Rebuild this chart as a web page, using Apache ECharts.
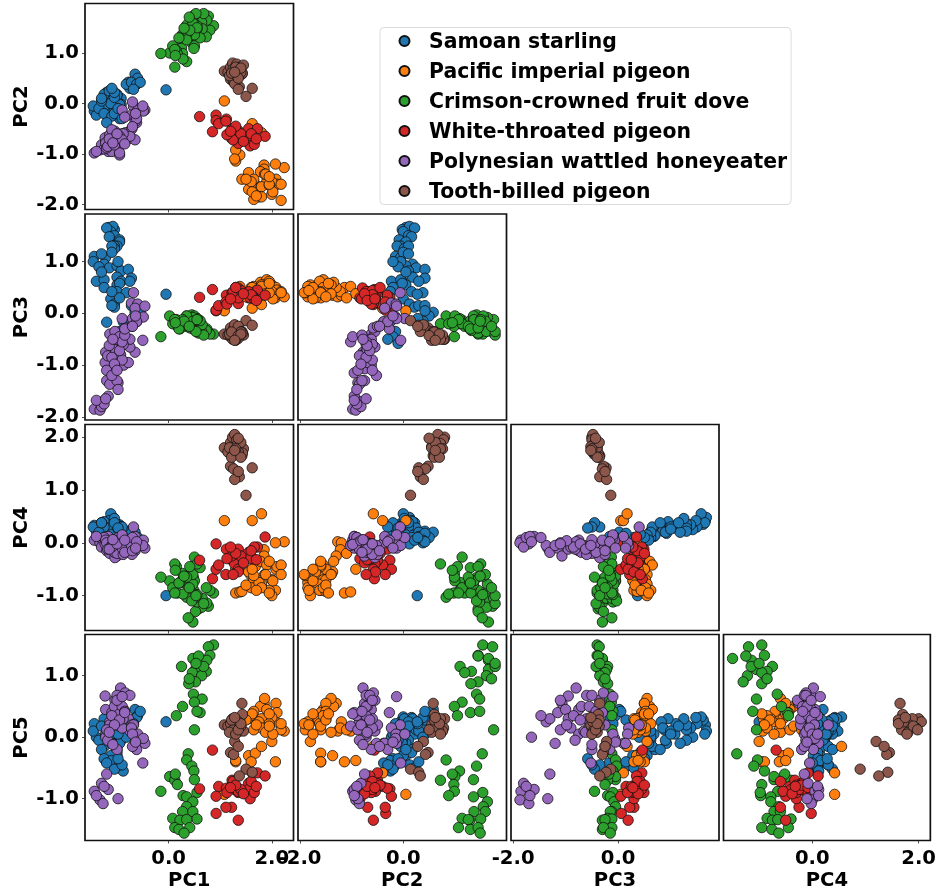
<!DOCTYPE html>
<html><head><meta charset="utf-8">
<style>html,body{margin:0;padding:0;background:#fff}#c{width:939px;height:892px}</style>
<script src="https://cdn.jsdelivr.net/npm/echarts@6/dist/echarts.min.js"></script>
</head><body><div id="c"></div>
<script>
const pcNames = ['PC1','PC2','PC3','PC4','PC5'];
const speciesNames = ['Samoan starling','Pacific imperial pigeon','Crimson-crowned fruit dove','White-throated pigeon','Polynesian wattled honeyeater','Tooth-billed pigeon'];
const speciesColors = ['#1f77b4','#ff7f0e','#2ca02c','#d62728','#9467bd','#8c564b'];
const samoanStarling = [
[-1.16,0.05,1.66,0.42,0.2],[-1.05,-0.02,1.62,0.35,0.28],[-1.08,0.12,1.68,0.48,0.1],[-1.12,0.0,1.58,0.55,0.33],[-1.2,0.22,1.65,0.38,0.05],
[-1.05,0.1,1.5,0.3,0.22],[-1.15,0.16,1.48,0.42,0.32],[-0.95,-0.08,1.42,0.25,0.0],[-0.95,0.05,1.38,0.34,0.15],[-1.0,-0.05,1.3,0.36,0.12],
[-1.05,-0.12,1.3,0.28,0.2],[-1.05,0.02,1.25,0.46,0.3],[-1.1,0.1,1.3,0.22,-0.05],[-1.44,-0.15,1.1,0.33,0.22],[-1.22,-0.05,1.08,0.28,0.05],
[-1.1,0.0,1.18,0.2,-0.1],[-1.25,0.18,0.95,0.4,0.3],[-1.15,0.25,0.88,0.28,0.12],[-1.0,0.05,0.92,0.18,-0.1],[-0.92,0.1,0.82,0.3,0.25],
[-0.78,0.42,0.85,0.22,0.15],[-0.72,0.42,0.68,0.12,0.05],[-1.0,0.18,0.7,0.14,-0.2],[-0.92,-0.02,0.62,0.1,-0.05],[-1.4,-0.23,0.62,0.22,0.0],
[-1.25,-0.05,0.65,0.3,-0.15],[-0.75,0.3,0.62,0.2,0.1],[-1.0,0.05,0.55,0.15,-0.3],[-0.95,-0.02,0.58,0.05,-0.1],[-1.0,0.16,0.42,0.1,-0.25],
[-1.12,0.0,0.28,0.02,-0.3],[-0.82,0.38,0.4,0.0,0.0],[-1.05,0.12,0.18,-0.02,-0.45],[-1.05,0.22,0.12,0.05,-0.5],[-1.1,0.3,0.15,0.12,-0.4],
[-1.46,-0.05,1.0,0.3,0.1],[-1.35,-0.1,0.9,0.2,-0.05],[-1.3,0.05,0.8,0.38,-0.2],[-1.25,-0.2,0.5,0.1,-0.35],[-0.95,-0.3,0.3,0.1,-0.5],
[-1.1,-0.25,0.42,0.16,-0.38],[-1.3,0.1,1.15,0.38,0.18],[-0.98,-0.2,1.0,0.26,0.05],
[-0.65,0.58,0.02,0.2,0.45],[-0.6,0.5,-0.05,0.1,0.35],[-0.72,0.42,0.15,0.18,0.28],[-0.62,0.38,-0.15,0.05,0.32],[-0.55,0.42,0.05,0.02,0.42],
[-0.68,0.28,-0.1,0.1,0.22],[-1.2,-0.38,-0.17,0.0,-0.42],[-0.88,-0.25,-0.16,0.12,-0.55],[-0.95,-0.15,-0.35,0.3,-0.45],[-1.05,-0.2,-0.45,0.38,-0.52],
[-0.9,-0.3,-0.5,0.3,-0.45],[-0.98,-0.1,-0.58,0.28,-0.35],[-0.05,0.27,0.37,-1.0,0.25]];
const pacificImperialPigeon = [
[1.3,-1.14,0.5,-0.95,-0.4],[1.38,-1.02,0.52,-0.93,0.1],[1.55,-1.37,0.35,-0.55,-0.3],[1.68,-1.6,0.45,-0.45,-0.26],[1.6,-1.6,0.42,-0.62,-0.4],
[2.07,-1.6,0.3,-0.9,-0.4],[2.0,-1.8,0.55,-1.0,-0.07],[1.08,0.05,0.05,0.42,-0.93],[1.62,-0.4,0.1,0.42,-0.58],[1.8,-0.58,0.17,0.55,-0.15],
[2.24,-1.27,0.32,0.02,0.1],[2.07,-1.2,0.35,0.0,0.25],[1.85,-1.22,0.42,-0.13,0.15],[1.85,-1.3,0.5,-0.25,0.55],[1.78,-1.35,0.6,-0.35,0.5],
[1.9,-1.55,0.65,-0.42,0.45],[1.86,-1.4,0.55,-0.6,0.63],[2.08,-1.5,0.5,-0.5,0.55],[2.1,-1.6,0.45,-0.45,0.4],[2.0,-1.55,0.42,-0.7,0.32],
[1.65,-1.5,0.52,-0.7,0.42],[1.55,-1.7,0.3,-0.55,0.3],[1.8,-1.65,0.55,-0.78,0.3],[1.95,-1.62,0.62,-0.9,0.22],[1.42,-1.5,0.36,-0.92,0.3],
[1.6,-1.55,0.5,-0.85,0.35],[1.75,-1.85,0.32,-0.75,0.25],[1.8,-1.85,0.52,-0.85,0.15],[1.65,-1.9,0.4,-0.62,0.12],[1.88,-1.4,0.38,-0.6,0.08],
[2.18,-1.6,0.42,-0.42,0.12],[2.02,-1.75,0.28,-0.72,0.05],[1.62,-1.75,0.5,-0.5,0.38],[1.95,-1.6,0.4,-0.35,0.18],[2.18,-1.92,0.4,-0.6,0.22],
[1.5,-1.5,0.32,-0.8,0.28],[1.7,-1.83,0.44,-0.9,0.2],[1.3,-0.92,0.38,-0.5,-0.38],[1.28,-1.1,0.3,-0.2,0.12],[1.95,-1.45,0.58,-0.95,0.38]];
const crimsonCrownedFruitDove = [
[0.87,1.54,-0.4,-0.95,1.5],[0.77,1.73,-0.36,-1.2,1.47],[0.8,1.45,-0.4,-0.9,1.33],[0.74,1.65,-0.3,-1.14,1.25],[0.47,1.65,-0.3,-1.5,1.28],
[0.58,1.45,-0.38,-1.25,1.32],[0.25,1.1,-0.2,-0.75,1.15],[0.73,1.32,-0.33,-0.85,1.07],[0.52,1.65,-0.22,-1.05,1.1],[0.46,1.19,-0.25,-0.95,1.05],
[0.64,1.61,-0.35,-1.22,1.0],[0.52,1.45,-0.28,-1.3,0.9],[0.39,1.31,-0.2,-0.95,0.87],[0.48,1.42,-0.16,-0.66,0.7],[0.65,1.48,-0.22,-1.05,0.62],
[0.5,1.14,-0.13,-0.27,0.57],[0.61,1.3,-0.14,-0.47,0.4],[0.55,1.48,-0.1,-1.12,0.42],[0.27,0.99,-0.16,-0.58,0.5],[0.15,1.05,-0.12,-0.45,0.35],
[0.5,1.75,-0.12,-1.05,0.12],[0.38,1.53,-0.12,-1.42,-0.27],[0.35,0.83,-0.05,-1.03,-0.37],[0.45,1.42,-0.03,-1.1,-0.47],[0.49,1.09,-0.1,-0.9,-0.55],
[0.5,1.36,-0.05,-0.72,-0.69],[0.02,1.0,-0.05,-0.72,-0.64],[0.12,0.72,-0.2,-0.4,-0.7],[0.17,0.98,-0.25,-0.95,-0.77],[-0.15,0.99,-0.45,-0.65,-0.88],
[0.28,0.88,-0.2,-0.97,-0.95],[0.55,1.54,-0.1,-0.98,-0.9],[0.35,1.36,-0.15,-0.78,-0.97],[0.47,1.63,-0.08,-0.78,-1.05],[0.35,1.55,-0.05,-0.63,-1.13],
[0.27,1.37,-0.12,-0.72,-1.21],[0.47,1.59,-0.15,-0.6,-1.21],[0.08,1.14,-0.2,-0.85,-1.32],[0.22,1.29,-0.3,-0.75,-1.35],[0.55,1.5,-0.12,-0.4,-1.33],
[0.35,1.26,-0.25,-0.65,-1.34],[0.12,1.07,-0.12,-0.95,-1.47],[0.2,1.3,-0.3,-0.76,-1.5],[0.41,1.45,-0.28,-0.45,-1.47],[0.3,1.49,-0.15,-0.63,-1.56],
[0.68,1.78,-0.42,-1.15,1.15],[0.53,1.78,-0.35,-1.0,1.2],[0.4,1.71,-0.25,-0.85,0.95],[0.13,0.95,-0.18,-0.52,-0.6]];
const whiteThroatedPigeon = [
[0.6,-0.26,0.31,-0.33,-0.84],[0.85,-0.56,0.46,-0.68,-0.21],[0.92,-0.23,0.05,-0.5,-0.96],[0.92,-0.34,0.06,-0.02,-1.24],[0.97,-0.4,0.15,-0.42,-0.8],
[1.12,-0.31,0.35,-0.12,-0.83],[1.23,-0.5,0.4,-0.33,-0.7],[1.28,-0.55,0.36,-0.4,-0.85],[1.22,-0.69,0.3,-0.25,-1.14],[1.11,-0.35,0.22,-0.6,-1.14],
[1.35,-0.58,0.19,-0.5,-1.35],[1.35,-0.79,0.49,-0.12,-0.9],[1.55,-0.5,0.38,-0.2,-0.75],[1.72,-0.5,0.45,-0.08,-0.58],[1.87,-0.65,0.35,0.11,-0.63],
[1.64,-0.66,0.33,-0.3,-0.78],[1.55,-0.67,0.42,-0.18,-0.85],[1.58,-0.84,0.3,-0.3,-1.0],[1.66,-0.81,0.28,-0.08,-0.9],[1.35,-0.54,0.3,-0.55,-0.88],
[1.25,-0.72,0.42,-0.6,-0.72],[1.13,-0.62,0.18,-0.3,-0.9],[1.4,-0.6,0.44,-0.25,-0.85],[1.6,-0.6,0.36,-0.15,-0.72],[1.3,-0.45,0.5,-0.2,-0.78],
[1.45,-0.75,0.38,-0.38,-0.92],[1.7,-0.7,0.25,-0.32,-0.8],[1.2,-0.55,0.28,-0.08,-0.82]];
const polynesianWattledHoneyeater = [
[-1.44,-0.98,-1.85,0.05,-0.88],[-1.33,-0.92,-1.87,0.0,-1.02],[-1.27,-0.85,-1.7,-0.02,-1.08],[-1.17,-0.95,-1.6,0.12,-0.85],[-1.3,-0.82,-1.8,-0.08,-0.75],
[-1.25,-0.9,-1.75,0.1,-0.8],[-1.2,-0.75,-1.3,-0.15,-0.6],[-0.98,-0.88,-1.34,-0.1,-1.0],[-1.4,-0.95,-1.68,0.12,-0.95],
[-1.22,-0.72,-1.65,0.02,0.0],[-1.14,-0.85,-1.37,-0.05,0.25],[-1.0,-0.8,-1.3,-0.18,0.3],[-0.98,-0.9,-1.47,0.1,0.35],[-1.23,-0.68,-0.95,-0.02,0.67],
[-1.22,-0.78,-0.75,0.05,0.45],[-1.1,-0.95,-1.15,-0.1,0.4],[-1.0,-0.75,-1.07,-0.25,0.55],[-0.87,-0.62,-1.0,-0.02,0.45],[-0.78,-0.7,-0.95,-0.12,0.3],
[-0.93,-0.78,-0.8,0.02,0.8],[-0.65,-0.72,-0.75,-0.15,0.05],[-0.75,-0.55,-0.65,-0.05,0.1],[-1.14,-0.62,-0.4,-0.2,0.2],[-1.04,-0.55,-0.35,-0.28,0.6],
[-0.84,-0.58,-0.28,-0.12,0.72],[-0.71,-0.5,-0.25,-0.22,0.2],[-0.62,-0.38,-0.16,0.0,-0.1],[-0.95,-1.02,-0.55,-0.05,0.18],[-1.0,-0.72,-0.6,-0.15,0.68],
[-0.75,-0.65,-0.5,-0.12,0.68],[-1.05,-0.7,-0.7,-0.18,0.5],[-0.9,-0.6,-0.9,-0.08,0.15],[-1.2,-0.88,-1.1,0.0,0.12],[-1.1,-0.52,-1.2,-0.05,-0.1],
[-1.0,-0.62,-0.5,-0.2,-0.2],[-1.18,-0.85,-0.82,-0.12,-0.05],[-0.95,-0.98,-0.45,-0.03,0.38],[-0.88,-0.6,-0.6,-0.22,0.3],
[-1.1,-0.72,-0.85,-0.08,0.35],[-0.95,-0.65,-0.72,-0.02,0.28],[-1.05,-0.82,-0.98,0.04,0.2],[-0.9,-0.72,-0.55,-0.1,0.5],[-1.15,-0.7,-0.62,-0.12,0.08],[-0.85,-0.8,-0.42,-0.18,0.42],[-1.0,-0.6,-1.1,-0.02,0.6],[-1.08,-0.78,-0.5,0.06,-0.12],
[-0.68,-0.06,0.4,0.3,0.2],[-0.72,-0.23,0.2,-0.05,0.15],[-0.6,-0.14,0.18,0.0,0.05],[-0.65,-0.36,0.1,0.12,-0.1],[-0.46,-0.13,0.14,-0.1,-0.1],
[-0.49,-0.15,-0.07,0.05,-0.02],[-0.5,-0.05,-0.52,-0.05,-0.42],[-0.7,0.03,-0.1,0.1,0.05],[-0.9,-0.13,-0.1,0.15,0.66],[-0.85,-0.27,-0.3,0.05,0.4],
[-0.62,-0.3,-0.16,0.02,-0.2],[-0.7,-0.46,-0.25,-0.15,-0.15],[-0.64,-0.2,-0.05,-0.1,-0.08]];
const toothBilledPigeon = [
[1.5,0.14,-0.14,0.9,-0.52],[1.62,0.3,-0.23,1.42,-0.57],[1.2,0.48,-0.28,1.45,-0.25],[1.26,0.43,-0.3,1.4,-0.28],[1.37,0.33,-0.35,1.25,-0.63],
[1.28,0.39,-0.22,1.2,-0.07],[1.35,0.28,-0.25,1.35,-0.15],[1.08,0.64,-0.4,1.8,0.2],[1.15,0.62,-0.42,1.72,0.18],[1.2,0.72,-0.45,1.9,0.22],
[1.24,0.8,-0.5,2.0,0.3],[1.28,0.67,-0.48,2.05,0.25],[1.32,0.78,-0.5,1.95,0.15],[1.38,0.72,-0.44,1.88,0.3],[1.45,0.76,-0.42,1.78,0.1],
[1.42,0.58,-0.35,1.65,0.55],[1.43,0.6,-0.38,1.7,0.37],[1.3,0.55,-0.52,1.82,0.2],[1.25,0.68,-0.46,1.68,0.12],[1.35,0.65,-0.48,1.72,0.25],
[1.18,0.55,-0.4,1.8,0.08],[1.4,0.62,-0.36,1.9,0.18],[1.3,0.72,-0.5,1.78,0.05],[1.22,0.6,-0.36,1.62,0.28],[1.35,0.5,-0.43,1.98,0.12],
[1.4,0.7,-0.4,1.62,0.22],[1.28,0.62,-0.52,1.75,0.32]];
const speciesRows = [samoanStarling,pacificImperialPigeon,crimsonCrownedFruitDove,whiteThroatedPigeon,polynesianWattledHoneyeater,toothBilledPigeon];
const xLimits = [[-1.62,2.42],[-2.04,2.0],[-2.04,1.92],[-1.67,2.22]];
const yLimits = [[-2.1,1.98],[-2.06,1.92],[-1.66,2.24],[-1.68,1.67]];
const xTicks = [[0,2],[-2,0],[-2,0],[0,2]];
const yTicks = [[-2,-1,0,1],[-2,-1,0,1],[-1,0,1,2],[-1,0,1]];
const colLeft = [85,298,511,723.5], colRight = [293.5,506.5,719,931.5];
const rowTop = [3.5,214,424.5,634.5], rowBottom = [209.5,420,630.5,840.5];
const F = {fontFamily:'DejaVu Sans',fontWeight:'bold',fontSize:19.6,color:'#000'};
const grids=[],xAxes=[],yAxes=[],series=[];
let k=0;
for(let r=0;r<4;r++){for(let c=0;c<=r;c++){
  grids.push({left:colLeft[c],width:colRight[c]-colLeft[c],top:rowTop[r],height:rowBottom[r]-rowTop[r],show:true,borderColor:'#111',borderWidth:1.7,backgroundColor:'#fff'});
  const bottom=r===3, first=c===0;
  xAxes.push({type:'value',gridIndex:k,min:xLimits[c][0],max:xLimits[c][1],splitLine:{show:false},axisLine:{show:false,onZero:false},
    axisTick:{show:true,length:3,lineStyle:{color:'#222',width:0.8},customValues:xTicks[c]},
    axisLabel:Object.assign({show:bottom,margin:8,customValues:xTicks[c],formatter:v=>v.toFixed(1)},F),
    name:bottom?pcNames[c]:'',nameLocation:'middle',nameGap:30,nameTextStyle:F});
  yAxes.push({type:'value',gridIndex:k,min:yLimits[r][0],max:yLimits[r][1],splitLine:{show:false},axisLine:{show:false,onZero:false},
    axisTick:{show:first,length:3,lineStyle:{color:'#222',width:0.8},customValues:yTicks[r]},
    axisLabel:Object.assign({show:first,margin:6,padding:[5,0,0,0],customValues:yTicks[r],formatter:v=>v.toFixed(1)},F),
    name:first?pcNames[r+1]:'',nameLocation:'middle',nameGap:52,nameTextStyle:F});
  speciesRows.forEach((rows,s)=>{
    series.push({type:'scatter',name:speciesNames[s],xAxisIndex:k,yAxisIndex:k,symbol:'circle',symbolSize:10.4,
      itemStyle:{color:speciesColors[s],borderColor:'#111',borderWidth:0.8,opacity:1},silent:true,
      data:rows.map(p=>[p[c],p[r+1]])});
  });
  k++;
}}
const legendFont = {fontFamily:'DejaVu Sans',fontWeight:'bold',fontSize:20.4,color:'#000'};
const chart=echarts.init(document.getElementById('c'),null,{renderer:'canvas'});
chart.setOption({animation:false,backgroundColor:'#fff',tooltip:{show:false},grid:grids,xAxis:xAxes,yAxis:yAxes,series,
  legend:{left:380,top:27.5,orient:'vertical',data:speciesNames,icon:'circle',itemWidth:10,itemHeight:10,itemGap:6,padding:[1.5,4,1.5,18.5],
    backgroundColor:'#fff',borderColor:'#dcdcdc',borderWidth:1,borderRadius:4,selectedMode:false,
    formatter:name=>'{t|'+name+'}',
    textStyle:Object.assign({},legendFont,{padding:[0,0,0,14.5],rich:{t:Object.assign({},legendFont,{lineHeight:18,padding:[4,0,0,0]})}})}
});
</script></body></html>
